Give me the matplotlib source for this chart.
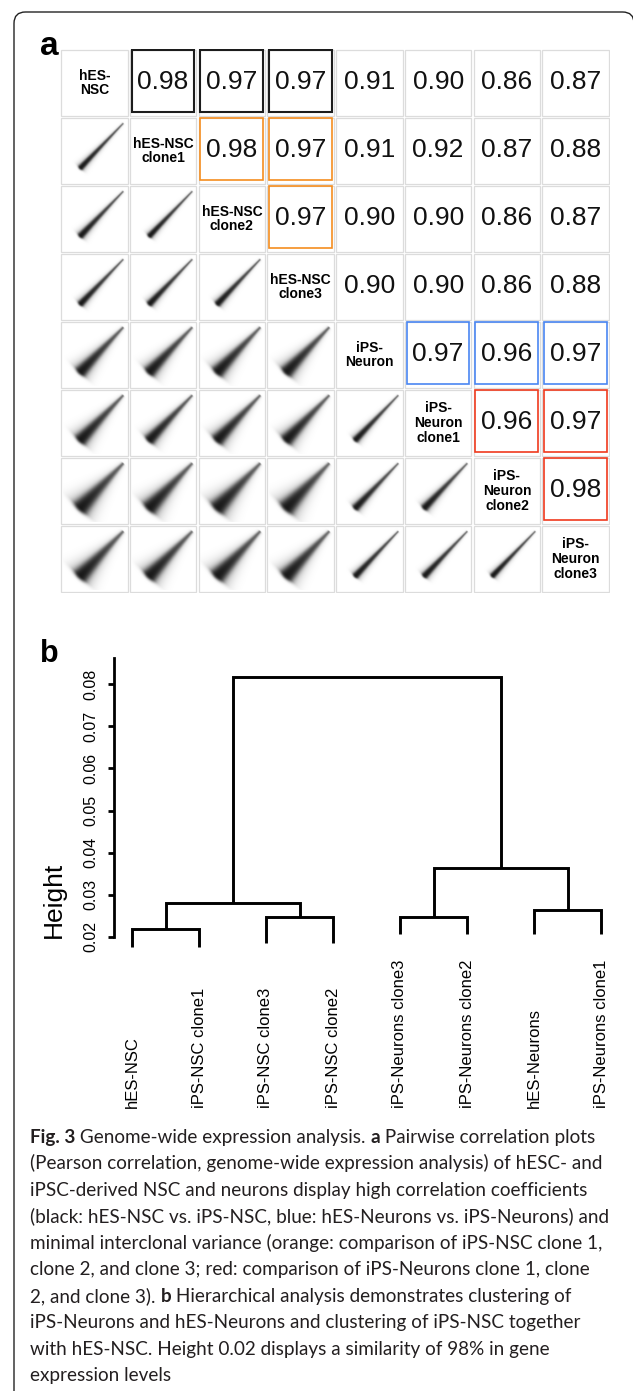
import numpy as np
import matplotlib
matplotlib.use("Agg")
import matplotlib.pyplot as plt
from matplotlib.patches import Rectangle, FancyBboxPatch
from matplotlib.transforms import blended_transform_factory

# ---- data -------------------------------------------------------------
samples = ["hES-\nNSC", "hES-NSC\nclone1", "hES-NSC\nclone2", "hES-NSC\nclone3",
           "iPS-\nNeuron", "iPS-\nNeuron\nclone1", "iPS-\nNeuron\nclone2",
           "iPS-\nNeuron\nclone3"]

# upper triangle of the Pearson correlation matrix, row i holds columns i+1..7
corr_upper = [
    [0.98, 0.97, 0.97, 0.91, 0.90, 0.86, 0.87],
    [0.98, 0.97, 0.91, 0.92, 0.87, 0.88],
    [0.97, 0.90, 0.90, 0.86, 0.87],
    [0.90, 0.90, 0.86, 0.88],
    [0.97, 0.96, 0.97],
    [0.96, 0.97],
    [0.98],
]

# highlighted pairs (row, col) -> colour group
box_black = [(0, 1), (0, 2), (0, 3)]
box_orange = [(1, 2), (1, 3), (2, 3)]
box_blue = [(4, 5), (4, 6), (4, 7)]
box_red = [(5, 6), (5, 7), (6, 7)]

# dendrogram
leaf_labels = ["hES-NSC", "iPS-NSC clone1", "iPS-NSC clone3", "iPS-NSC clone2",
               "iPS-Neurons clone3", "iPS-Neurons clone2", "hES-Neurons",
               "iPS-Neurons clone1"]
leaf_ends = [0.0176, 0.0176, 0.0186, 0.0186, 0.0207, 0.0207, 0.0207, 0.0207]
# linkage: (child a, child b, height); ids >= 8 refer to earlier merges
merges = [
    (0, 1, 0.0219),
    (2, 3, 0.0247),
    (4, 5, 0.0247),
    (6, 7, 0.0265),
    (8, 9, 0.0281),
    (10, 11, 0.0364),
    (12, 13, 0.0817),
]
height_ticks = [0.02, 0.03, 0.04, 0.05, 0.06, 0.07, 0.08]

caption = [
    [("Fig. 3", "bold"), (" Genome-wide expression analysis. ", "normal"),
     ("a", "bold"), (" Pairwise correlation plots", "normal")],
    [("(Pearson correlation, genome-wide expression analysis) of hESC- and", "normal")],
    [("iPSC-derived NSC and neurons display high correlation coefficients", "normal")],
    [("(black: hES-NSC vs. iPS-NSC, blue: hES-Neurons vs. iPS-Neurons) and", "normal")],
    [("minimal interclonal variance (orange: comparison of iPS-NSC clone 1,", "normal")],
    [("clone 2, and clone 3; red: comparison of iPS-Neurons clone 1, clone", "normal")],
    [("2, and clone 3). ", "normal"), ("b", "bold"),
     (" Hierarchical analysis demonstrates clustering of", "normal")],
    [("iPS-Neurons and hES-Neurons and clustering of iPS-NSC together", "normal")],
    [("with hES-NSC. Height 0.02 displays a similarity of 98% in gene", "normal")],
    [("expression levels", "normal")],
]

# ---- figure -----------------------------------------------------------
W, H = 633, 1391
fig = plt.figure(figsize=(W / 100, H / 100), dpi=100)


def px_axes(x0, y0, x1, y1):
    return fig.add_axes([x0 / W, 1 - y1 / H, (x1 - x0) / W, (y1 - y0) / H])


# outer frame
frame = FancyBboxPatch((14 / W, -0.05), (634 - 14) / W, 1 - 12 / H + 0.05,
                       boxstyle="round,pad=0,rounding_size=0.018",
                       transform=fig.transFigure, fill=False,
                       ec="#222222", lw=1.0, mutation_aspect=W / H)
fig.patches.append(frame)

fig.text(40 / W, 1 - 55 / H, "a", fontsize=24, weight="bold",
         family="Liberation Sans", ha="left", va="baseline")
fig.text(40 / W, 1 - 662 / H, "b", fontsize=22, weight="bold",
         family="Liberation Sans", ha="left", va="baseline")

# ---- panel a: pairs matrix --------------------------------------------
ax = px_axes(60, 49, 610, 593)
n = len(samples)
ax.axis("off")


def corr(i, j):
    i, j = min(i, j), max(i, j)
    return corr_upper[i][j - i - 1]


def cloud(r, m=140):
    # shaded stand-in for the scatter cloud, width driven by the correlation
    g = np.linspace(0, 1, m)
    U, V = np.meshgrid(g, g)
    p0 = np.array([0.28, 0.23])
    p1 = np.array([0.94, 0.93])
    d = p1 - p0
    L = np.hypot(*d)
    e = d / L
    t = ((U - p0[0]) * e[0] + (V - p0[1]) * e[1]) / L
    s = -(U - p0[0]) * e[1] + (V - p0[1]) * e[0]
    w0 = 0.012 + 0.40 * (1 - r)
    tc = np.clip(t, 0, 1)
    spread = w0 * (1 - 0.85 * tc) + 0.005
    along = np.where(t < 0, np.exp(-(t * L) ** 2 / (2 * (0.3 * w0 + 0.014) ** 2)),
                     np.exp(-1.2 * tc))
    along = along * np.where(t > 1, np.exp(-((t - 1) * L) ** 2 / 1e-4), 1.0)
    core = along * np.exp(-s ** 2 / (2 * spread ** 2))
    halo = along * np.exp(-s ** 2 / (2 * (2.2 * spread) ** 2))
    dark = 1 - np.exp(-(2.4 * core + 0.4 * halo))
    return 1 - 0.96 * dark


shrink = 0.015
for i in range(n):
    for j in range(n):
        ax.add_patch(Rectangle((j + shrink, i + shrink), 1 - 2 * shrink,
                               1 - 2 * shrink, fill=False, ec="#dcdcdc",
                               lw=0.9, zorder=3))
        if i == j:
            ax.text(j + 0.5, i + 0.5, samples[i], ha="center", va="center",
                    fontsize=10, weight="bold", linespacing=1.05,
                    family=["Liberation Sans Narrow", "Liberation Sans"])
        elif i < j:
            ax.text(j + 0.5, i + 0.49, "%.2f" % corr(i, j), ha="center",
                    va="center", fontsize=19, family="Liberation Sans",
                    color="#111111")
        else:
            img = cloud(corr(i, j))
            ax.imshow(img, cmap="gray", vmin=0, vmax=1, origin="lower",
                      extent=(j + 0.04, j + 0.96, i + 0.96, i + 0.04),
                      interpolation="bilinear", aspect="auto", zorder=1)

for pairs, col, lw in [(box_black, "#1c1c1c", 1.5), (box_orange, "#F58D1F", 1.2),
                       (box_blue, "#4A86F2", 1.2), (box_red, "#F03A1E", 1.2)]:
    for (i, j) in pairs:
        ax.add_patch(Rectangle((j + 0.04, i + 0.02), 0.91, 0.91, fill=False,
                               ec=col, lw=lw, zorder=4))
ax.set_xlim(0, n)
ax.set_ylim(n, 0)

# ---- panel b: dendrogram ----------------------------------------------
bx = px_axes(114, 650, 620, 960)
ppu = (937 - 684) / 0.06        # pixels per height unit
bx.set_xlim(-18 / 67, (620 - 132) / 67)
bx.set_ylim(0.02 - (960 - 937) / ppu, 0.08 + (684 - 650) / ppu)

nl = len(leaf_labels)
pos = {k: float(k) for k in range(nl)}
hgt = {}
for k, (a, b, h) in enumerate(merges):
    ya = leaf_ends[a] if a < nl else hgt[a]
    yb = leaf_ends[b] if b < nl else hgt[b]
    bx.plot([pos[a], pos[a], pos[b], pos[b]], [ya, h, h, yb], color="black",
            lw=2.1, solid_capstyle="butt", solid_joinstyle="miter")
    pos[nl + k] = (pos[a] + pos[b]) / 2
    hgt[nl + k] = h

for s in ["top", "right", "bottom"]:
    bx.spines[s].set_visible(False)
bx.spines["left"].set_linewidth(2.0)
bx.spines["left"].set_bounds(0.02, 0.0862)
bx.set_xticks([])
bx.set_yticks(height_ticks)
bx.set_yticklabels(["%.2f" % v for v in height_ticks], rotation=90,
                   va="center", family="Liberation Sans", fontsize=11.5)
bx.tick_params(axis="y", length=4, width=2, pad=7)
bx.patch.set_visible(False)

fig.text(54 / W, 1 - 938 / H, "Height", rotation=90, ha="center", va="bottom",
         fontsize=19, family="Liberation Sans")

tr = blended_transform_factory(bx.transData, fig.transFigure)
for k, lab in enumerate(leaf_labels):
    bx.text(k, 1 - 1108 / H, lab, rotation=90, ha="center", va="bottom",
            transform=tr, fontsize=12, family="Liberation Sans", clip_on=False)

# ---- caption ----------------------------------------------------------
renderer = fig.canvas.get_renderer()
cap_fs = 13.6


def text_width(txt, wt):
    # measure between bars so leading/trailing spaces count
    t1 = fig.text(0, 0, "|" + txt + "|", fontsize=cap_fs, family="Lato", weight=wt)
    t2 = fig.text(0, 0, "||", fontsize=cap_fs, family="Lato", weight=wt)
    w = t1.get_window_extent(renderer).width - t2.get_window_extent(renderer).width
    t1.remove()
    t2.remove()
    return w


base0 = 1143
step = 26.45
for li, pieces in enumerate(caption):
    y = 1 - (base0 + li * step) / H
    x = 30.0
    for txt, wt in pieces:
        fig.text(x / W, y, txt, fontsize=cap_fs, family="Lato", weight=wt,
                 color="#231f20", va="baseline", ha="left")
        x += text_width(txt, wt)

fig.savefig("out.png", dpi=100)
